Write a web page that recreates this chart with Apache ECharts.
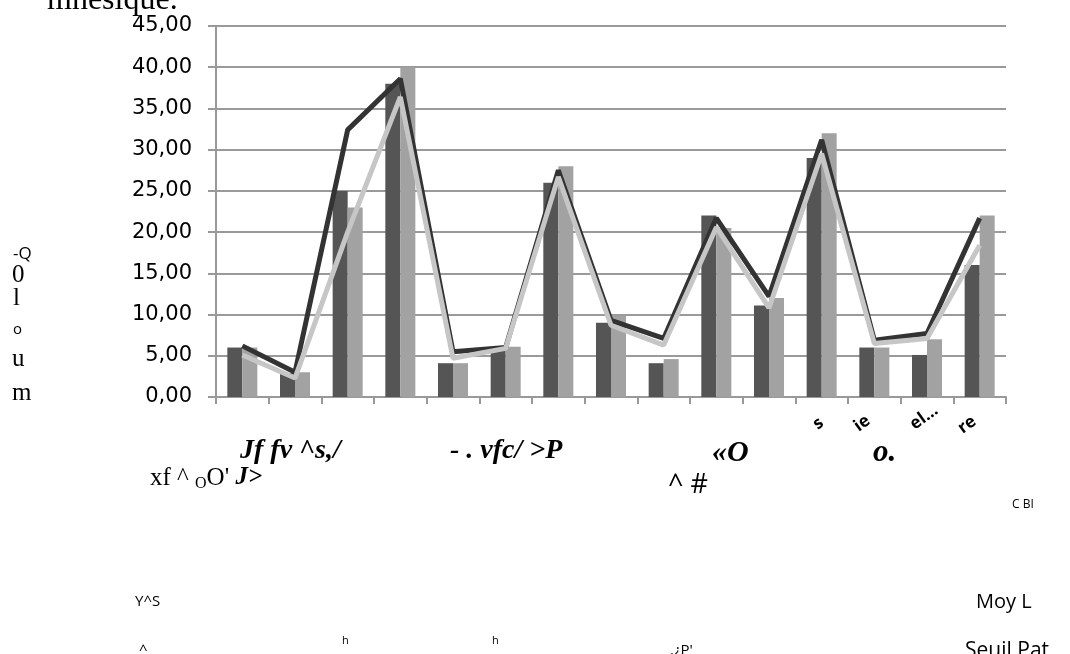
<!DOCTYPE html>
<html><head><meta charset="utf-8">
<script src="https://cdn.jsdelivr.net/npm/echarts@6/dist/echarts.min.js"></script>
<style>html,body{margin:0;padding:0;background:#fff;}#c{width:1070px;height:654px;}</style>
</head><body><div id="c"></div>
<script>
var categories = ['1','2','3','4','5','6','7','8','9','10','11','12','13','14','15'];
var barDark  = [6.0, 2.9, 25.0, 38.0, 4.1, 5.7, 26.0, 9.0, 4.1, 22.0, 11.1, 29.0, 6.0, 5.1, 16.0];
var barLight = [6.0, 3.0, 23.0, 40.0, 4.1, 6.1, 28.0, 9.9, 4.6, 20.5, 12.0, 32.0, 6.0, 7.0, 22.0];
var lineDark  = [6.2, 3.0, 32.4, 38.6, 5.5, 6.0, 27.5, 9.3, 7.1, 21.7, 12.2, 31.2, 6.9, 7.7, 21.7];
var lineLight = [5.1, 2.3, 20.0, 36.4, 4.7, 5.9, 26.7, 8.7, 6.3, 20.6, 10.8, 29.5, 6.5, 7.1, 18.4];
var yTicks = {min: 0, max: 45, interval: 5};

var chart = echarts.init(document.getElementById('c'), null, {renderer: 'canvas'});
var serif = '"Liberation Serif", "DejaVu Serif", serif';
var sans = '"Open Sans", "Liberation Sans", sans-serif';
function t(x, y, text, opts) {
  var s = Object.assign({text: text, x: x, y: y, fill: '#000', font: '22px ' + serif, textVerticalAlign: 'middle'}, opts || {});
  return {type: 'text', style: s, silent: true};
}
function r(x, y, text) {
  return {type: 'text', x: x, y: y, rotation: Math.PI / 5, silent: true,
    style: {text: text, font: 'bold 17px ' + sans, fill: '#000', textVerticalAlign: 'middle'}};
}
var graphics = [
  t(47, 1, 'mnesique.', {font: '32px ' + serif}),
  t(13, 254, '-Q', {font: '17px ' + sans}),
  t(12, 275, '0', {font: '25px ' + serif}),
  t(13, 298, 'l', {font: '25px ' + serif}),
  t(13, 330, 'o', {font: '15px ' + sans}),
  t(12, 359, 'u', {font: '25px ' + serif}),
  t(12, 393, 'm', {font: '25px ' + serif}),
  t(240, 451, 'Jf fv ^s,/', {font: 'italic bold 28px ' + serif}),
  t(450, 451, '- . vfc/ >P', {font: 'italic bold 28px ' + serif}),
  t(712, 453, '\u00abO', {font: 'italic bold 30px ' + serif}),
  t(873, 453, 'o.', {font: 'italic bold 31px ' + serif}),
  {type: 'text', x: 150, y: 478, silent: true, style: {
    text: '{a|xf ^ }{s|O}{a|O\' }{b|J>}', textVerticalAlign: 'middle',
    rich: {a: {font: '25px ' + serif, fill: '#000'},
           s: {font: '16px ' + serif, fill: '#000', padding: [11, 0, 0, 0]},
           b: {font: 'italic bold 25px ' + serif, fill: '#000'}}}},
  t(668, 485, '^ #', {font: '27px ' + sans}),
  t(1012, 505, 'C BI', {font: '12px ' + sans}),
  r(815, 426, 's'),
  r(856, 428, 'ie'),
  r(912, 426, 'el\u2026'),
  r(960, 430, 're'),
  t(135, 602, 'Y^S', {font: '15px ' + sans}),
  t(976, 602, 'Moy L', {font: '20px ' + sans}),
  t(139, 651, '^', {font: '15px ' + sans}),
  t(342, 641, 'h', {font: '11px ' + sans}),
  t(492, 641, 'h', {font: '11px ' + sans}),
  t(670, 651, '.\u00bfP\'', {font: '15px ' + sans}),
  t(965, 651, 'Seuil Pat', {font: '21px ' + sans})
];

chart.setOption({
  animation: false,
  backgroundColor: '#fff',
  grid: {left: 216, right: 64, top: 26, bottom: 257, containLabel: false},
  xAxis: {
    type: 'category', data: categories, boundaryGap: true,
    axisLine: {show: true, onZero: false, lineStyle: {color: '#999', width: 2}},
    axisTick: {show: true, interval: 0, length: 7, lineStyle: {color: '#999', width: 2}},
    axisLabel: {show: false},
    splitLine: {show: false}
  },
  yAxis: {
    type: 'value', min: yTicks.min, max: yTicks.max, interval: yTicks.interval,
    axisLine: {show: true, lineStyle: {color: '#999', width: 2}},
    axisTick: {show: true, length: 8, inside: false, lineStyle: {color: '#999', width: 2}},
    axisLabel: {
      margin: 24, color: '#000', fontSize: 21, fontFamily: '"DejaVu Sans", sans-serif',
      formatter: function (v) { return v.toFixed(2).replace('.', ','); }
    },
    splitLine: {show: true, lineStyle: {color: '#9a9a9a', width: 2}}
  },
  series: [
    {type: 'bar', data: barDark, barGap: '0%', barCategoryGap: '43%', itemStyle: {color: '#555555'}},
    {type: 'bar', data: barLight, barGap: '0%', barCategoryGap: '43%', itemStyle: {color: '#a2a2a2'}},
    {type: 'line', data: lineDark, symbol: 'none', lineStyle: {color: '#333333', width: 5}, z: 3},
    {type: 'line', data: lineLight, symbol: 'none', lineStyle: {color: '#c6c6c6', width: 5}, z: 4}
  ],
  graphic: graphics
});
</script>
</body></html>
